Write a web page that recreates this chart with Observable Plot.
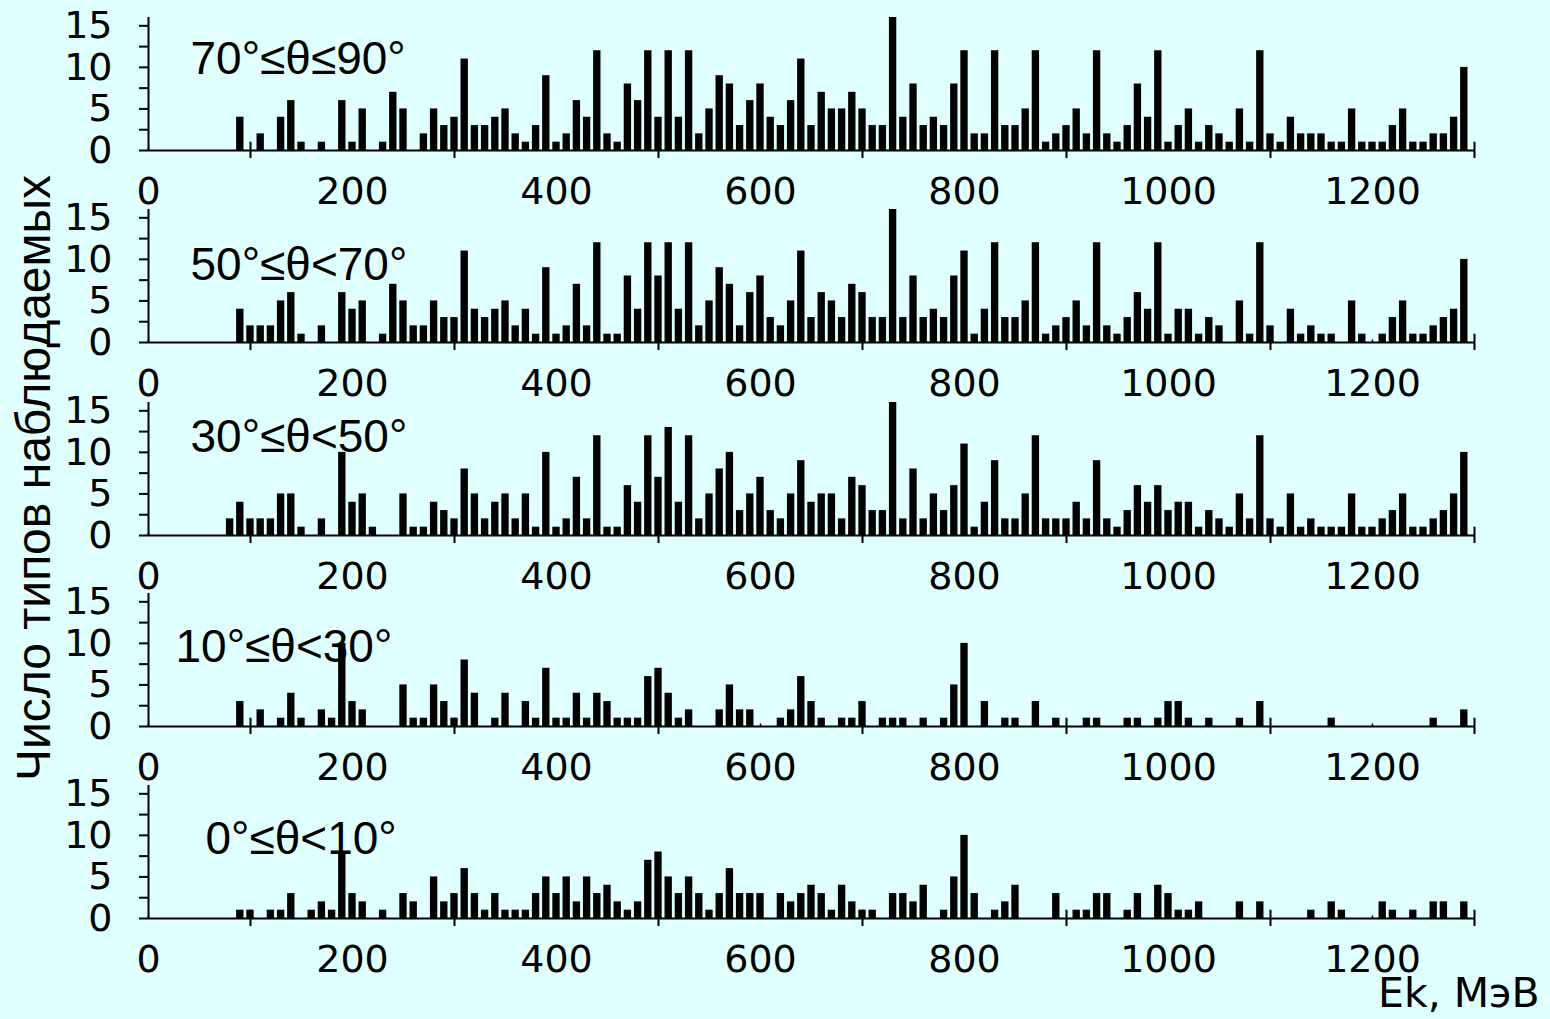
<!DOCTYPE html>
<html><head><meta charset="utf-8">
<script src="https://cdn.jsdelivr.net/npm/d3@7"></script>
<script src="https://cdn.jsdelivr.net/npm/@observablehq/plot@0.6"></script>
<style>
html,body{margin:0;padding:0;background:#e0ffff;}
#chart{position:relative;width:1550px;height:1019px;background:#e0ffff;overflow:hidden;color:#000;}
#chart .panel{position:absolute;left:0;}
#overlay{position:absolute;left:0;top:0;pointer-events:none;}
</style></head><body><div id="chart"></div>
<script>
// Bin energies (MeV)
const energies = [80,90,100,110,120,130,140,150,160,170,180,190,200,210,220,230,240,250,260,270,
280,290,300,310,320,330,340,350,360,370,380,390,400,410,420,430,440,450,460,470,
480,490,500,510,520,530,540,550,560,570,580,590,600,610,620,630,640,650,660,670,
680,690,700,710,720,730,740,750,760,770,780,790,800,810,820,830,840,850,860,870,
880,890,900,910,920,930,940,950,960,970,980,990,1000,1010,1020,1030,1040,1050,1060,1070,
1080,1090,1100,1110,1120,1130,1140,1150,1160,1170,1180,1190,1200,1210,1220,1230,1240,1250,1260,1270,
1280,1290];

const angleLabels = ["70°≤θ≤90°", "50°≤θ<70°", "30°≤θ<50°", "10°≤θ<30°", "0°≤θ<10°"];

const counts70to90 = [0,4,0,2,0,4,6,1,0,1, 0,6,1,5,0,1,7,5,0,2, 5,3,4,11,3,3,4,5,2,1, 3,9,1,2,6,4,12,2,1,8,
6,12,4,12,4,12,2,5,9,8, 3,6,8,4,3,6,11,3,7,5, 5,7,5,3,3,16,4,8,3,4, 3,8,12,2,2,12,3,3,5,12,
1,2,3,5,2,12,2,1,3,8, 4,12,1,3,5,1,3,2,1,5, 1,12,2,1,4,2,2,2,1,1, 5,1,1,1,3,5,1,1,2,2, 4,10];

const counts50to70 = [0,4,2,2,2,5,6,1,0,2, 0,6,4,5,0,1,7,5,2,2, 5,3,3,11,4,3,4,5,2,4, 1,9,1,2,7,2,12,1,1,8,
4,12,8,12,4,12,2,5,9,7, 2,6,8,3,2,5,11,3,6,5, 3,7,6,3,3,16,3,8,3,4, 3,8,11,1,4,12,3,3,5,12,
1,2,3,5,2,12,2,1,3,6, 4,12,1,4,4,1,3,2,0,5, 1,12,2,0,4,1,2,1,1,0, 5,1,0,1,3,5,1,1,2,3, 4,10];

const counts30to50 = [2,4,2,2,2,5,5,1,0,2, 0,10,4,5,1,0,0,5,1,1, 4,3,2,8,5,2,4,5,2,5, 1,10,1,2,7,2,12,1,1,6,
4,12,7,13,4,12,2,5,8,10, 3,5,7,3,2,5,9,4,5,5, 2,7,6,3,3,16,2,8,2,5, 3,6,11,1,4,9,2,2,5,12,
2,2,2,4,2,9,2,1,3,6, 4,6,3,4,4,1,3,2,1,5, 2,12,2,1,5,1,2,1,1,1, 5,1,1,2,3,5,1,1,2,3, 5,10];

const counts10to30 = [0,3,0,2,0,1,4,1,0,2, 1,10,3,2,0,0,0,5,1,1, 5,3,1,8,4,0,1,4,0,3, 1,7,1,1,4,1,4,3,1,1,
1,6,7,4,1,2,0,0,2,5, 2,2,0,0,1,2,6,3,1,0, 1,1,3,0,1,1,1,0,1,0, 1,5,10,0,3,0,1,1,0,3,
0,1,0,0,1,1,0,0,1,1, 0,1,3,3,1,0,1,0,0,1, 0,3,0,0,0,0,0,0,1,0, 0,0,0,0,0,0,0,0,1,0, 0,2];

const counts0to10 = [0,1,1,0,1,1,3,0,1,2, 1,8,3,2,0,1,0,3,2,0, 5,2,3,6,3,1,3,1,1,1, 3,5,3,5,2,5,3,4,2,1,
2,7,8,5,3,5,3,1,3,6, 3,3,3,0,3,2,3,4,3,1, 4,2,1,1,0,3,3,2,4,0, 1,5,10,3,0,1,2,4,0,0,
0,3,0,1,1,3,3,0,1,3, 0,4,3,1,1,2,0,0,0,2, 0,2,0,0,0,0,1,0,2,1, 0,0,0,2,1,0,1,0,2,2, 0,2];

const xTickLabels = [0, 200, 400, 600, 800, 1000, 1200];
const xCrossTicks = [100, 300, 500, 700, 900, 1100, 1300];
const yTickLabels = [0, 5, 10, 15];
const yMinorTicks = [0, 2.5, 5, 7.5, 10, 12.5, 15];
const yTitle = "Число типов наблюдаемых";
const xTitle = "Ek, МэВ";

const series = [counts70to90, counts50to70, counts30to50, counts10to30, counts0to10];

// layout (pixels)
const baselines = [150, 342, 535, 726, 918];
const labelPos = [{dx: 42, dy: 24}, {dx: 42, dy: 38}, {dx: 42, dy: 17}, {dx: 27, dy: 36}, {dx: 57, dy: 36}];
const marginTop = 9, plotH = 133, H = 205;

const chart = document.getElementById("chart");
const numFont = "DejaVu Sans, Verdana, sans-serif";
const plain = d => String(d);

series.forEach((values, i) => {
  const data = energies.map((e, j) => ({e, v: values[j]})).filter(d => d.v > 0);
  const svg = Plot.plot({
    width: 1550, height: H,
    marginLeft: 148, marginRight: 76, marginTop, marginBottom: H - marginTop - plotH,
    x: {domain: [0, 1300]},
    y: {domain: [0, 16]},
    style: {background: "transparent", overflow: "visible", color: "black", fontFamily: numFont},
    marks: [
      Plot.rectY(data, {x1: d => d.e - 3.6, x2: d => d.e + 3.6, y: "v", fill: "black"}),
      Plot.ruleY([0], {stroke: "black", strokeWidth: 2}),
      Plot.ruleX([0], {stroke: "black", strokeWidth: 2}),
      Plot.axisY(yMinorTicks, {tickSize: 9, strokeWidth: 2, tickFormat: () => "", label: null}),
      Plot.axisY(yTickLabels, {tickSize: 0, tickPadding: 36, fontSize: 38, fontFamily: numFont, tickFormat: plain, label: null}),
      Plot.axisX(xTickLabels, {tickSize: 0, tickPadding: 27, fontSize: 38, fontFamily: numFont, tickFormat: plain, label: null}),
      Plot.axisX(xCrossTicks, {tickSize: 8, strokeWidth: 2, tickFormat: () => "", label: null}),
      Plot.ruleX(xCrossTicks, {y1: 0, y2: 1, stroke: "black", strokeWidth: 2}),
      Plot.ruleX(xTickLabels, {y1: 0, y2: 0.3, stroke: "black", strokeWidth: 1.5}),
      Plot.text([angleLabels[i]], {frameAnchor: "top-left", dx: labelPos[i].dx, dy: labelPos[i].dy,
        text: d => d, textAnchor: "start", lineAnchor: "top", fontSize: 46,
        fontFamily: "Liberation Sans, Arial, sans-serif", fill: "black"})
    ]
  });
  svg.classList.add("panel");
  svg.style.top = (baselines[i] - marginTop - plotH) + "px";
  chart.appendChild(svg);
});

// Titles overlay
const ns = "http://www.w3.org/2000/svg";
const ov = document.createElementNS(ns, "svg");
ov.setAttribute("id", "overlay");
ov.setAttribute("width", 1550);
ov.setAttribute("height", 1019);
const yt = document.createElementNS(ns, "text");
yt.setAttribute("transform", "translate(50,478) rotate(-90)");
yt.setAttribute("text-anchor", "middle");
yt.setAttribute("font-family", "Liberation Sans, Arial, sans-serif");
yt.setAttribute("font-size", "48");
yt.textContent = yTitle;
ov.appendChild(yt);
const xt = document.createElementNS(ns, "text");
xt.setAttribute("x", 1378);
xt.setAttribute("y", 1007);
xt.setAttribute("font-family", numFont);
xt.setAttribute("font-size", "41");
xt.textContent = xTitle;
ov.appendChild(xt);
chart.appendChild(ov);
</script></body></html>
